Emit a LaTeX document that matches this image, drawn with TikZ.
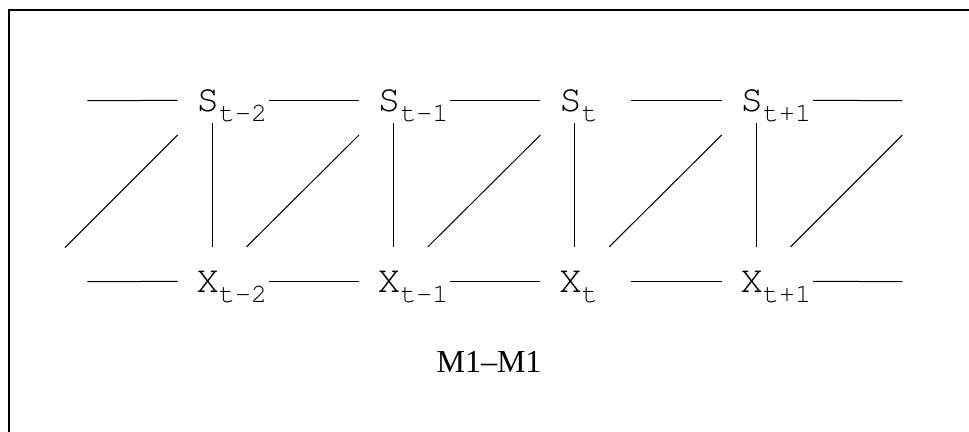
\documentclass[tikz,border=0pt]{standalone}
\usepackage{fontspec}
\setmainfont{Liberation Serif}
\usepackage[T1,TU]{fontenc}
\usepackage{tikz}
\newcommand{\courierfont}{\fontencoding{T1}\fontfamily{pcr}\selectfont}
\newcommand{\tsub}[1]{\raisebox{-5pt}{\fontsize{13.3}{14}\selectfont #1}}

\begin{document}
\begin{tikzpicture}[
  x=0.5pt,y=0.5pt,
  var/.style={anchor=south west,inner sep=0pt,text width=34pt,align=left,
    text height=11.6pt,text depth=0pt,font=\courierfont\fontsize{19}{20}\selectfont,
    execute at begin node=\hspace*{-1.5pt}},
  link/.style={draw=black,line width=.5pt},
  frame/.style={draw=black,line width=1.1pt},
  caption/.style={anchor=base,inner sep=0pt,font=\fontencoding{TU}\rmfamily\fontsize{16}{18}\selectfont}
]
  \useasboundingbox (0,0) rectangle (969,432);
  \clip (0,0) rectangle (969,432);
  \draw[frame] (9,-20) rectangle (990,422);

  \node[var] (s1) at (199,319.7) {S\tsub{t-2}};
  \node[var] (s2) at (380.33,319.7) {S\tsub{t-1}};
  \node[var] (s3) at (561.67,319.7) {S\tsub{t}};
  \node[var] (s4) at (743,319.7) {S\tsub{t+1}};
  \node[var] (x1) at (199,138.7) {X\tsub{t-2}};
  \node[var] (x2) at (380.33,138.7) {X\tsub{t-1}};
  \node[var] (x3) at (561.67,138.7) {X\tsub{t}};
  \node[var] (x4) at (743,138.7) {X\tsub{t+1}};
  \node[caption] (title) at (489,59.3) {M1–M1};

  \coordinate (sin) at (87.3,331.3);
  \coordinate (xin) at (87.3,150.3);
  \coordinate (din) at (65,184.3);
  \coordinate (sout) at (902.3,331.3);
  \coordinate (xout) at (902.3,150.3);
  \coordinate (dout) at (902.3,297);

  % state chain
  \draw[link,shorten >=10.67pt] (sin) -- (s1.west);
  \draw[link,shorten <=.5pt,shorten >=10.67pt] (s1.east) -- (s2.west);
  \draw[link,shorten <=.5pt,shorten >=10.67pt] (s2.east) -- (s3.west);
  \draw[link,shorten <=.5pt,shorten >=10.67pt] (s3.east) -- (s4.west);
  \draw[link,shorten <=.5pt] (s4.east) -- (sout);

  % observation chain
  \draw[link,shorten >=10.67pt] (xin) -- (x1.west);
  \draw[link,shorten <=.5pt,shorten >=10.67pt] (x1.east) -- (x2.west);
  \draw[link,shorten <=.5pt,shorten >=10.67pt] (x2.east) -- (x3.west);
  \draw[link,shorten <=.5pt,shorten >=10.67pt] (x3.east) -- (x4.west);
  \draw[link,shorten <=.5pt] (x4.east) -- (xout);

  % emissions
  \draw[link] ([xshift=6.5pt,yshift=-5.5pt]s1.south west) -- ([xshift=6.5pt,yshift=11.2pt]x1.north west);
  \draw[link] ([xshift=6.5pt,yshift=-5.5pt]s2.south west) -- ([xshift=6.5pt,yshift=11.2pt]x2.north west);
  \draw[link] ([xshift=6.5pt,yshift=-5.5pt]s3.south west) -- ([xshift=6.5pt,yshift=11.2pt]x3.north west);
  \draw[link] ([xshift=6.5pt,yshift=-5.5pt]s4.south west) -- ([xshift=6.5pt,yshift=11.2pt]x4.north west);

  % cross links
  \draw[link] (din) -- ([xshift=-10.65pt,yshift=-11.35pt]s1.south west);
  \draw[link] ([xshift=-10.65pt,yshift=11.2pt]x1.north east) -- ([xshift=-10.65pt,yshift=-11.35pt]s2.south west);
  \draw[link] ([xshift=-10.65pt,yshift=11.2pt]x2.north east) -- ([xshift=-10.65pt,yshift=-11.35pt]s3.south west);
  \draw[link] ([xshift=-10.65pt,yshift=11.2pt]x3.north east) -- ([xshift=-10.65pt,yshift=-11.35pt]s4.south west);
  \draw[link] ([xshift=-10.65pt,yshift=11.2pt]x4.north east) -- (dout);
\end{tikzpicture}
\end{document}
